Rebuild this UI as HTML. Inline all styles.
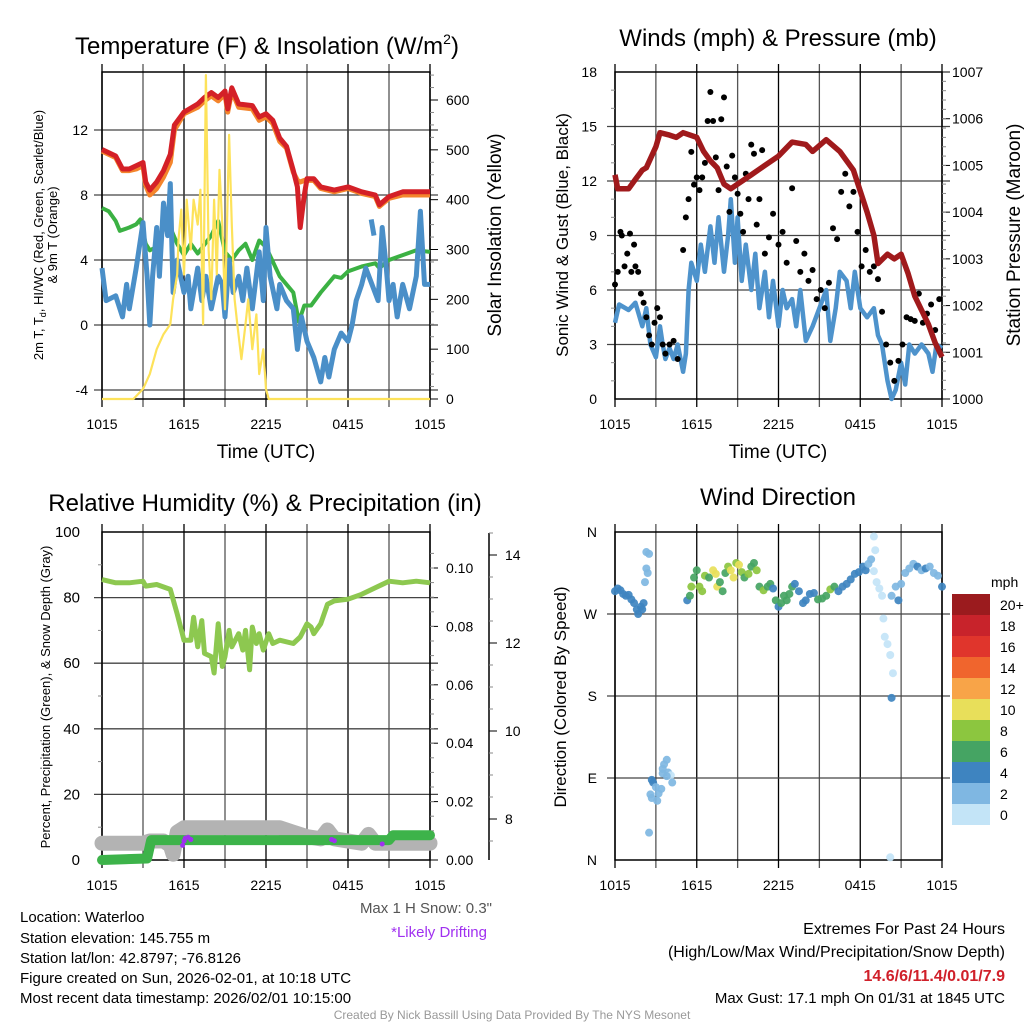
<!DOCTYPE html>
<html><head><meta charset="utf-8"><style>
html,body{margin:0;padding:0;background:#fff;}
svg{display:block;font-family:"Liberation Sans",Arial,sans-serif;}
</style></head><body>
<svg id="chart" width="1024" height="1024" viewBox="0 0 1024 1024" xmlns="http://www.w3.org/2000/svg">
<rect width="1024" height="1024" fill="#fff"/>
<g id="layer"></g>
<text x="267" y="54" font-size="24" text-anchor="middle">Temperature (F) &amp; Insolation (W/m<tspan font-size="14" dy="-10">2</tspan><tspan dy="10">)</tspan></text>
<text x="778" y="46" font-size="24" text-anchor="middle">Winds (mph) &amp; Pressure (mb)</text>
<text x="265" y="511" font-size="24" text-anchor="middle">Relative Humidity (%) &amp; Precipitation (in)</text>
<text x="778" y="505" font-size="24" text-anchor="middle">Wind Direction</text>
<text x="266" y="458" font-size="19" text-anchor="middle">Time (UTC)</text>
<text x="778" y="458" font-size="19" text-anchor="middle">Time (UTC)</text>
<text transform="translate(43,235) rotate(-90)" font-size="13" text-anchor="middle">2m T, T<tspan font-size="9" dy="3">d</tspan><tspan dy="-3">, HI/WC (Red, Green, Scarlet/Blue)</tspan></text>
<text transform="translate(57,235) rotate(-90)" font-size="13" text-anchor="middle">&amp; 9m T (Orange)</text>
<text transform="translate(501,235) rotate(-90)" font-size="19" text-anchor="middle">Solar Insolation (Yellow)</text>
<text transform="translate(568,235) rotate(-90)" font-size="17" text-anchor="middle">Sonic Wind &amp; Gust (Blue, Black)</text>
<text transform="translate(1020,235) rotate(-90)" font-size="19" text-anchor="middle">Station Pressure (Maroon)</text>
<text transform="translate(50,697) rotate(-90)" font-size="13" text-anchor="middle">Percent, Precipitation (Green), &amp; Snow Depth (Gray)</text>
<text transform="translate(566,697) rotate(-90)" font-size="17" text-anchor="middle">Direction (Colored By Speed)</text>
<text x="492" y="913" font-size="15" fill="#555" text-anchor="end">Max 1 H Snow: 0.3"</text>
<text x="487" y="937" font-size="15" fill="#a030f0" text-anchor="end">*Likely Drifting</text>
<g font-size="15">
<text x="20" y="922">Location: Waterloo</text>
<text x="20" y="943">Station elevation: 145.755 m</text>
<text x="20" y="963">Station lat/lon: 42.8797; -76.8126</text>
<text x="20" y="983">Figure created on Sun, 2026-02-01, at 10:18 UTC</text>
<text x="20" y="1003">Most recent data timestamp: 2026/02/01 10:15:00</text>
</g>
<g font-size="16" text-anchor="end">
<text x="1005" y="934">Extremes For Past 24 Hours</text>
<text x="1005" y="957">(High/Low/Max Wind/Precipitation/Snow Depth)</text>
<text x="1005" y="981" fill="#d0202a" font-weight="bold">14.6/6/11.4/0.01/7.9</text>
<text x="1005" y="1003" font-size="15">Max Gust: 17.1 mph On 01/31 at 1845 UTC</text>
</g>
<text x="512" y="1019" font-size="12" fill="#999" text-anchor="middle">Created By Nick Bassill Using Data Provided By The NYS Mesonet</text>
</svg>
<script>
// ---- data (hours since 1015 UTC) ----
const timeTicks=["1015","1615","2215","0415","1015"];
const tempH=[0,1,1.5,2,2.5,3,3.2,3.5,4,4.5,5,5.3,6,7,7.5,8,8.5,9,9.2,9.5,10,11,11.5,12,12.5,13,13.5,14,14.3,14.5,14.8,15,15.5,16,17,18,19,20,20.3,21,22,24];
const tempV=[10.8,10.4,9.6,9.6,9.8,10.0,8.8,8.3,8.8,9.5,10.5,12.3,13.1,13.6,14.0,14.3,14.0,14.4,13.3,14.6,13.6,13.5,12.8,13.0,12.6,11.5,11.0,9.5,8.5,6.0,8.0,9.0,9.0,8.5,8.3,8.5,8.2,8.0,7.4,7.9,8.2,8.2];
const t9V=[10.7,10.3,9.5,9.5,9.6,9.8,8.6,8.0,8.4,9.1,10.0,12.0,13.0,13.4,13.8,14.1,13.8,14.2,13.1,14.4,13.4,13.3,12.6,12.8,12.4,11.3,10.9,9.4,8.9,8.8,8.9,8.9,8.9,8.4,8.2,8.4,8.1,7.9,7.3,7.8,8.0,8.0];
const dewH=[0,0.5,1,1.3,2,2.5,2.8,3.2,3.5,4,4.5,5,5.5,6,6.5,7,8,8.5,9,9.5,10,10.5,11,11.5,12,13,14,14.4,14.8,15.3,16,17,17.5,18,19,20,20.3,21,22,23,24];
const dewV=[7.2,7.0,6.4,5.8,6.0,6.2,6.5,5.0,4.6,4.8,6.0,6.0,5.0,4.3,5.0,4.4,5.5,6.4,4.5,4.0,4.6,5.0,4.0,5.2,4.8,3.0,2.0,0.2,1.2,1.2,2.0,3.0,2.9,3.3,3.6,3.8,3.5,4.0,4.3,4.6,4.5];
const wcH=[0,0.3,1,1.5,1.8,2,2.5,3,3.3,3.5,3.7,4,4.2,4.5,4.8,5,5.2,5.5,6,6.3,6.5,7,7.3,7.6,8,8.5,8.8,9,9.3,9.6,10,10.3,10.6,11,11.5,11.8,12,12.3,12.8,13,13.5,14,14.3,14.6,15,15.5,16,16.3,16.6,17,17.5,18,18.3,18.6,19,19.3,20.2,20.5,20.8,21,21.3,21.6,22,22.5,23,23.3,23.6,24];
const wcV=[3.5,1.5,1.8,0.5,2.5,1.0,3.5,6.3,3.0,0.0,3.0,6.0,3.0,7.5,5.5,8.7,2.0,4.0,2.0,3.0,1.0,3.5,1.5,3.0,1.0,3.0,2.5,0.5,4.0,2.0,3.0,1.5,3.5,1.0,4.5,1.5,6.0,3.0,1.0,2.5,1.5,1.0,-1.5,0.5,-1.0,-2.0,-3.5,-2.0,-3.2,-1.5,-0.5,-1.0,0.0,1.5,2.5,3.5,1.5,6.0,3.5,1.5,2.5,0.5,2.5,1.0,3.0,7.0,2.5,2.5];
const wcGapH=[19.7,19.9];
const wcGapV=[6.5,5.5];
const solH=[0,2.3,3,3.5,4,4.5,5,5.2,5.5,5.6,5.8,6,6.2,6.5,6.7,7,7.2,7.4,7.6,7.8,8,8.2,8.4,8.6,8.8,9,9.3,9.5,9.7,9.9,10.2,10.5,10.7,11,11.3,11.5,11.8,12,12.2,24];
const solV=[0,0,20,50,100,130,150,200,250,320,380,250,400,300,400,350,420,150,650,300,200,400,250,460,350,180,530,350,200,150,80,150,200,100,170,50,100,20,0,0];

const windH=[0,0.3,1,1.5,2,2.3,2.6,3,3.3,3.5,3.7,4,4.3,4.6,5,5.2,5.4,5.6,6,6.3,6.6,7,7.3,7.6,8,8.3,8.5,8.8,9,9.3,9.6,10,10.3,10.6,11,11.3,11.6,12,12.3,12.6,13,13.3,13.6,14,14.5,15,15.5,15.8,16.2,16.5,17,17.3,17.6,18,18.5,19,19.3,19.6,20,20.3,20.6,21,21.3,21.6,22,22.5,23,23.3,23.6,24];
const windV=[4.2,5.2,4.9,5.3,4.0,5.0,3.0,2.3,4.0,3.0,2.2,2.8,2.2,3.0,1.5,2.5,6.0,7.5,6.5,8.5,7.0,9.5,7.5,10.0,7.0,9.0,11.0,7.5,10.0,6.5,8.5,6.0,8.0,5.0,7.0,4.5,6.5,4.0,6.0,5.0,5.5,4.0,6.0,3.2,4.0,5.0,6.0,3.2,5.0,7.0,6.5,5.0,7.0,5.0,4.5,5.0,3.5,3.0,1.0,0.0,0.5,2.0,0.8,3.0,2.5,3.0,2.5,1.5,3.0,2.8];
const gustH=[0,0.2,0.4,0.5,0.7,0.9,1.1,1.2,1.4,1.5,1.7,1.9,2.1,2.3,2.5,2.7,2.9,3.1,3.3,3.5,3.7,4.0,4.3,4.6,5.0,5.2,5.4,5.6,5.8,6.0,6.2,6.4,6.6,6.8,7.0,7.2,7.4,7.6,7.8,8.0,8.2,8.4,8.6,8.8,9.0,9.2,9.4,9.6,9.8,10.0,10.2,10.4,10.6,10.8,11.0,11.3,11.6,12.0,12.3,12.6,13.0,13.3,13.6,13.9,14.2,14.5,14.8,15.1,15.4,15.7,16.0,16.3,16.6,16.9,17.2,17.5,17.8,18.1,18.4,18.7,19.0,19.3,19.6,19.9,20.2,20.5,20.8,21.1,21.4,21.7,22.0,22.3,22.6,22.9,23.2,23.5,23.8];
const gustV=[6.3,7.0,9.2,9.0,7.3,8.0,9.1,7.0,8.5,7.3,7.0,5.8,5.3,4.5,3.5,3.0,4.2,5.0,4.5,3.0,2.5,3.0,3.2,2.2,8.2,10.0,11.0,13.6,11.8,12.2,11.5,12.2,13.0,15.3,16.9,15.3,13.3,11.5,15.4,16.6,12.8,10.3,13.4,12.2,11.3,10.2,9.2,12.4,11.0,14.0,13.5,9.6,11.0,13.7,8.0,8.9,10.2,8.5,9.2,7.5,11.6,8.7,7.0,8.0,6.5,7.1,5.5,6.0,5.0,6.4,9.4,8.8,11.4,12.4,10.6,11.4,9.2,7.3,8.2,7.0,7.3,6.6,4.8,3.0,2.0,1.0,2.1,3.0,4.5,4.4,4.3,5.8,4.2,4.7,5.2,3.8,5.5];
const presH=[0,0.2,1,1.5,2,2.3,3,3.3,4,4.5,5,6,6.5,7,7.5,8,8.5,9,10,11,12,12.5,13,14,14.5,15.5,16.5,17.5,18.5,19,19.3,20,20.5,21,21.5,22,23,23.5,24];
const presV=[1004.8,1004.5,1004.5,1004.7,1004.9,1004.95,1005.4,1005.7,1005.65,1005.6,1005.7,1005.6,1005.3,1005.1,1004.95,1004.6,1004.5,1004.6,1004.8,1005.0,1005.2,1005.35,1005.5,1005.45,1005.3,1005.55,1005.3,1004.9,1004.0,1003.5,1002.9,1003.1,1003.0,1003.1,1002.7,1002.2,1001.6,1001.2,1000.9];

const rhH=[0,1,2,3,3.2,4,5,5.5,6,6.5,6.7,7,7.3,7.5,8,8.2,8.5,8.8,9,9.3,9.5,10,10.3,10.5,10.8,11,11.3,11.5,11.8,12.2,12.5,13,14,14.5,15,15.3,15.5,16,16.5,17,18,19,20,21,22,23,24];
const rhV=[85.5,84.5,84.5,85,83.5,84,82.5,75,67,67,74,65,73,63,62,57,72,59,62,70,65,69,64,70,58,71,66,69,64,69,66,67,66,68,72,71,69,72,78,79,79.5,81,83,85,84.5,85,84.5];
const precH=[0,3.3,3.6,21,21.3,24];
const precV=[0,0.0005,0.0068,0.0068,0.0085,0.0085];
const snowH=[0,3,3.5,4.5,5.0,5.2,5.5,6,13,14,15,16,16.5,17,19,19.5,20,24];
const snowV=[7.45,7.45,7.5,7.5,7.4,7.2,7.7,7.8,7.8,7.7,7.6,7.55,7.75,7.55,7.45,7.65,7.45,7.45];
const driftH=[5.9,6.0,6.1,6.3,6.5,16.8,17.0,20.5];
const driftV=[0.005,0.0065,0.0075,0.0078,0.007,0.007,0.0066,0.0055];

const dirH=[0,0.2,0.4,0.6,0.8,1.0,1.2,1.4,1.6,1.7,1.9,2.1,2.0,2.3,2.5,2.3,2.4,2.2,2.7,2.8,3.0,2.6,2.7,3.1,3.2,3.4,3.5,3.6,3.5,3.8,3.9,4.1,4.2,3.8,2.5,5.3,5.5,5.6,5.8,6.0,6.2,6.4,6.6,6.9,7.2,7.4,7.5,7.7,7.9,8.1,8.3,8.5,8.7,8.9,9.1,9.3,9.5,9.8,10.0,10.2,10.4,10.6,10.9,11.2,11.4,11.6,11.8,12.0,12.2,12.4,12.6,12.8,13.0,13.2,13.5,13.8,14.0,14.3,14.6,14.9,15.2,15.5,15.8,16.1,16.4,16.7,17.0,17.3,17.6,17.9,18.2,18.4,18.6,18.8,19.0,19.1,19.0,19.2,19.4,19.6,19.7,19.8,20.0,20.2,20.4,20.3,20.2,20.3,20.6,20.8,21.0,21.3,21.6,21.9,22.2,22.5,22.8,23.1,23.4,23.7,24.0];
const dirV=[295,298,296,292,290,291,286,282,275,270,278,282,275,338,336,320,315,305,88,85,80,72,68,65,73,78,95,105,100,110,96,93,85,92,30,285,290,300,310,318,300,295,312,310,318,314,300,305,295,315,322,318,310,326,324,316,310,314,322,326,318,300,296,300,303,298,285,278,282,290,285,292,300,303,295,282,285,292,293,286,287,290,297,300,295,300,303,308,314,316,322,318,325,330,355,340,317,305,298,290,265,245,237,225,205,178,3,290,300,285,303,315,320,325,322,318,320,322,315,312,300];
const dirS=[4,4,4,4,4,4,4,4,4,4,4,4,4,2,2,2,2,2,4,4,3,2,2,2,3,2,2,2,2,2,2,1,2,2,2,4,6,8,6,6,8,8,8,6,10,10,10,6,6,6,8,10,10,8,10,8,6,8,6,6,8,6,8,6,6,4,6,4,6,6,6,6,6,4,4,4,4,4,4,6,6,6,8,6,4,4,4,4,4,4,4,4,2,2,0,0,1,1,0,0,0,0,0,1,0,4,0,2,2,4,2,2,2,2,4,2,4,2,2,2,4];
const cbLabels=["20+","18","16","14","12","10","8","6","4","2","0"];
const cbColors=["#9b1b1e","#c8232b","#e0352c","#f0652d","#f8a448","#e8df5a","#8cc63f","#45a463","#3e84c0","#7fb7e2","#c3e4f7"];

// ---- drawing ----
const NS="http://www.w3.org/2000/svg";
const layer=document.getElementById('layer');
function mk(tag,attrs,parent){const e=document.createElementNS(NS,tag);for(const k in attrs)e.setAttribute(k,attrs[k]);(parent||layer).appendChild(e);return e;}
function scale(d0,d1,r0,r1){return v=>r0+(v-d0)*(r1-r0)/(d1-d0);}
function pathOf(hs,vs,sx,sy){let d="";for(let i=0;i<hs.length;i++){d+=(i?"L":"M")+sx(hs[i]).toFixed(1)+","+sy(vs[i]).toFixed(1);}return d;}

function frame(x0,y0,x1,y1,vgrid,hgridVals,sy){
  const g=mk('g',{});
  
  
  const sx=scale(0,24,x0,x1);
  for(let h=0;h<=24;h+=3){mk('line',{x1:sx(h),x2:sx(h),y1:y0-8,y2:y1+8,stroke:(h%6==0?'#000':'#555'),'stroke-width':1.3},g);}
  hgridVals.forEach(v=>mk('line',{x1:x0-8,x2:x1+8,y1:sy(v),y2:sy(v),stroke:'#444','stroke-width':1.3},g));
  mk('rect',{x:x0,y:y0,width:x1-x0,height:y1-y0,fill:'none',stroke:'#000','stroke-width':1.5},g);
  timeTicks.forEach((t,i)=>{const tx=mk('text',{x:sx(i*6),y:y1+30,'font-size':14,'text-anchor':'middle'},g);tx.textContent=t;});
  return sx;
}
function leftLabels(x,vals,labels,sy,fs){vals.forEach((v,i)=>{const t=mk('text',{x:x,y:sy(v)+5,'font-size':fs||14,'text-anchor':'end'});t.textContent=labels[i];});}
function rightTicks(x,vals,labels,sy,minor,lx){vals.forEach((v,i)=>{mk('line',{x1:x,x2:x+8,y1:sy(v),y2:sy(v),stroke:'#000'});const t=mk('text',{x:lx,y:sy(v)+5,'font-size':14});t.textContent=labels[i];});
  (minor||[]).forEach(v=>mk('line',{x1:x,x2:x+4,y1:sy(v),y2:sy(v),stroke:'#888'}));}

// Panel 1
(function(){
  const x0=102,x1=430,y0=72,y1=399;
  const sy=scale(0,12,325,130), sr=scale(0,600,399,100);
  const sx=frame(x0,y0,x1,y1,true,[-4,0,4,8,12],sy);
  leftLabels(x0-14,[-4,0,4,8,12],["-4","0","4","8","12"],sy);
  const minor=[];for(let v=25;v<=650;v+=25)if(v%100)minor.push(v);
  rightTicks(x1,[0,100,200,300,400,500,600],["0","100","200","300","400","500","600"],sr,minor,x1+16);
  let p;
  p=mk('path',{d:pathOf(t9V.map((_,i)=>tempH[i]),t9V,sx,sy),fill:'none',stroke:'#f4852c','stroke-width':5,'stroke-linejoin':'round'});
  p=mk('path',{d:pathOf(tempH,tempV,sx,sy),fill:'none',stroke:'#d42027','stroke-width':5,'stroke-linejoin':'round'});
  p=mk('path',{d:pathOf(dewH,dewV,sx,sy),fill:'none',stroke:'#3bb143','stroke-width':4,'stroke-linejoin':'round'});
  p=mk('path',{d:pathOf(wcH,wcV,sx,sy)+pathOf(wcGapH,wcGapV,sx,sy),fill:'none',stroke:'#4a8fc8','stroke-width':5,'stroke-linejoin':'round'});
  p=mk('path',{d:pathOf(solH,solV,sx,sr),fill:'none',stroke:'#fde25a','stroke-width':2.2,'stroke-linejoin':'round'});
})();

// Panel 2
(function(){
  const x0=615,x1=942,y0=72,y1=399;
  const sy=scale(0,18,399,72), sr=scale(1000,1007,399,72);
  const sx=frame(x0,y0,x1,y1,true,[3,6,9,12,15],sy);
  leftLabels(x0-18,[0,3,6,9,12,15,18],["0","3","6","9","12","15","18"],sy);
  [1,2,4,5,7,8,10,11,13,14,16,17].forEach(v=>mk('line',{x1:x0-4,x2:x0,y1:sy(v),y2:sy(v),stroke:'#888'}));
  const minor=[];for(let v=1000.2;v<1007;v+=0.2)minor.push(v);
  rightTicks(x1,[1000,1001,1002,1003,1004,1005,1006,1007],["1000","1001","1002","1003","1004","1005","1006","1007"],sr,minor,x1+10);
  let p=mk('path',{d:pathOf(windH,windV,sx,sy),fill:'none',stroke:'#4e93cc','stroke-width':4.5,'stroke-linejoin':'round'});
  gustH.forEach((h,i)=>{const c=mk('circle',{cx:sx(h),cy:sy(gustV[i]),r:3,fill:'#000'});});
  p=mk('path',{d:pathOf(presH,presV,sx,sr),fill:'none',stroke:'#a01a1c','stroke-width':5.5,'stroke-linejoin':'round'});
})();

// Panel 3
(function(){
  const x0=102,x1=430,y0=532,y1=860;
  const sy=scale(0,100,860,532), sp=scale(0,0.1,860,568), ss=scale(8,14,819,555);
  const sx=frame(x0,y0,x1,y1,true,[20,40,60,80],sy);
  leftLabels(x0-22,[0,20,40,60,80,100],["0","20","40","60","80","100"],sy,15);
  [10,30,50,70,90].forEach(v=>mk('line',{x1:x0-4,x2:x0,y1:sy(v),y2:sy(v),stroke:'#888'}));
  const minor=[];for(let v=0.005;v<0.11;v+=0.005)minor.push(v);
  rightTicks(x1,[0,0.02,0.04,0.06,0.08,0.10],["0.00","0.02","0.04","0.06","0.08","0.10"],sp,minor,x1+16);
  mk('line',{x1:489,x2:489,y1:533,y2:860,stroke:'#000','stroke-width':1.5});
  const sm=[];for(let v=7.5;v<14.6;v+=0.5)if(v%2)sm.push(v);
  rightTicks(489,[8,10,12,14],["8","10","12","14"],ss,sm,505);
  let p=mk('path',{d:pathOf(snowH,snowV,sx,ss),fill:'none',stroke:'#b3b3b3','stroke-width':15,'stroke-linejoin':'round','stroke-linecap':'round'});
  p=mk('path',{d:pathOf(precH,precV,sx,sp),fill:'none',stroke:'#3db34a','stroke-width':10,'stroke-linejoin':'round','stroke-linecap':'round'});
  driftH.forEach((h,i)=>{const c=mk('circle',{cx:sx(h),cy:sp(driftV[i]),r:2.5,fill:'#a030f0'});});
  p=mk('path',{d:pathOf(rhH,rhV,sx,sy),fill:'none',stroke:'#8dc850','stroke-width':5,'stroke-linejoin':'round'});
})();

// Panel 4
(function(){
  const x0=615,x1=942,y0=532,y1=860;
  const sy=scale(0,360,860,532);
  const sx=frame(x0,y0,x1,y1,true,[90,180,270],sy);
  leftLabels(x0-18,[0,90,180,270,360],["N","E","S","W","N"],sy);
  function col(s){if(s>=20)return cbColors[0];const idx=10-Math.floor(s/2);return cbColors[Math.max(0,Math.min(10,idx))];}
  dirH.forEach((h,i)=>{const c=mk('circle',{cx:sx(h),cy:sy(dirV[i]),r:4,fill:col(dirS[i]),opacity:0.92});});
  const cb=mk('g',{});
  const t=mk('text',{x:991,y:587,'font-size':14},cb);t.textContent="mph";
  cbLabels.forEach((l,i)=>{mk('rect',{x:952,y:594+i*21,width:38,height:21,fill:cbColors[i]},cb);const tx=mk('text',{x:1000,y:610+i*21,'font-size':14},cb);tx.textContent=l;});
})();
</script>
</body></html>
